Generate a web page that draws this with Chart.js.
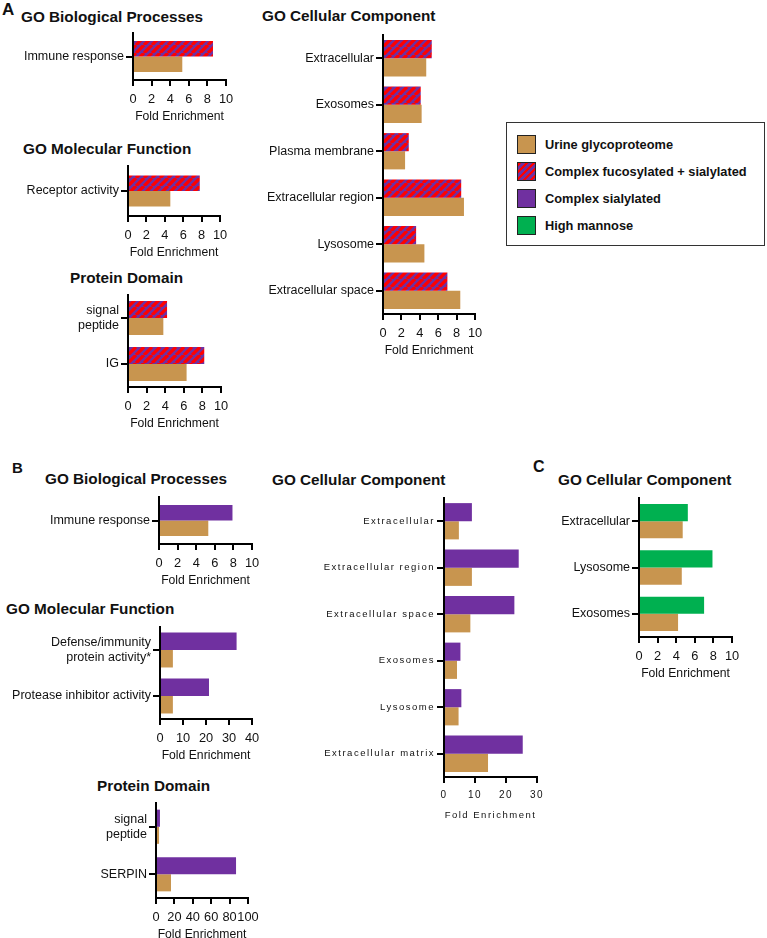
<!DOCTYPE html>
<html>
<head>
<meta charset="utf-8">
<script src="https://cdn.jsdelivr.net/npm/chart.js@4.4.1/dist/chart.umd.min.js"></script>
<style>
    body { margin: 0; background: #fff; font-family: "Liberation Sans", Arial, Helvetica, sans-serif; color: #111; }
    #page { position: relative; width: 767px; height: 938px; overflow: hidden; }
    canvas { position: absolute; }
    .lbl { position: absolute; font-weight: bold; line-height: 1; white-space: nowrap; }
    .title { font-size: 15.3px; }
    .legend { position: absolute; left: 506px; top: 122px; width: 257px; height: 122px; border: 1.5px solid #333; }
    .legend-item { position: absolute; left: 10px; height: 19px; display: flex; align-items: center; font-weight: bold; font-size: 12.8px; white-space: nowrap; }
    .swatch { width: 17px; height: 17px; border: 1.5px solid #222; margin-right: 9px; }
</style>
</head>
<body>
<div id="page">
    <div class="lbl" style="left:2px; top:1px; font-size:17px;">A</div>
    <div class="lbl" style="left:12px; top:460px; font-size:15px;">B</div>
    <div class="lbl" style="left:533px; top:459px; font-size:16px;">C</div>

    <div class="lbl title" style="left:21px; top:9px;">GO Biological Processes</div>
    <div class="lbl title" style="left:23px; top:141px;">GO Molecular Function</div>
    <div class="lbl title" style="left:70px; top:270px;">Protein Domain</div>
    <div class="lbl title" style="left:262px; top:8px;">GO Cellular Component</div>

    <div class="lbl title" style="left:45px; top:471px;">GO Biological Processes</div>
    <div class="lbl title" style="left:6px; top:601px;">GO Molecular Function</div>
    <div class="lbl title" style="left:97px; top:778px;">Protein Domain</div>
    <div class="lbl title" style="left:272px; top:472px;">GO Cellular Component</div>
    <div class="lbl title" style="left:558px; top:472px;">GO Cellular Component</div>

    <div class="legend">
        <div class="legend-item" style="top:12px;"><div class="swatch" style="background:#c8954f;"></div>Urine glycoproteome</div>
        <div class="legend-item" style="top:39px;"><div class="swatch" style="background:repeating-linear-gradient(135deg, #ff0000 0 2.5px, #7030a0 2.5px 5px);"></div>Complex fucosylated + sialylated</div>
        <div class="legend-item" style="top:66px;"><div class="swatch" style="background:#7030a0;"></div>Complex sialylated</div>
        <div class="legend-item" style="top:93px;"><div class="swatch" style="background:#00b050;"></div>High mannose</div>
    </div>
</div>

<script>
// ---- data ----
// Panel A: complex fucosylated + sialylated vs urine glycoproteome
const aBpLabels = ['Immune response'];
const aBpFucSial = [8.6];
const aBpUrine = [5.3];

const aMfLabels = ['Receptor activity'];
const aMfFucSial = [7.8];
const aMfUrine = [4.6];

const aPdLabels = [['signal', 'peptide'], 'IG'];
const aPdFucSial = [4.2, 8.2];
const aPdUrine = [3.8, 6.3];

const aCcLabels = ['Extracellular', 'Exosomes', 'Plasma membrane', 'Extracellular region', 'Lysosome', 'Extracellular space'];
const aCcFucSial = [5.3, 4.1, 2.8, 8.5, 3.6, 7.0];
const aCcUrine = [4.7, 4.2, 2.4, 8.8, 4.5, 8.4];

// Panel B: complex sialylated vs urine glycoproteome
const bBpLabels = ['Immune response'];
const bBpSial = [7.9];
const bBpUrine = [5.3];

const bMfLabels = [['Defense/immunity', 'protein activity*'], 'Protease inhibitor activity'];
const bMfSial = [33.3, 21.3];
const bMfUrine = [5.6, 5.6];

const bPdLabels = [['signal', 'peptide'], 'SERPIN'];
const bPdSial = [4.3, 87];
const bPdUrine = [3.3, 16.3];

const bCcLabels = ['Extracellular', 'Extracellular region', 'Extracellular space', 'Exosomes', 'Lysosome', 'Extracellular matrix'];
const bCcSial = [9.0, 24.1, 22.7, 5.3, 5.6, 25.4];
const bCcUrine = [4.8, 9.0, 8.5, 4.2, 4.7, 14.2];

// Panel C: high mannose vs urine glycoproteome
const cCcLabels = ['Extracellular', 'Lysosome', 'Exosomes'];
const cCcMannose = [5.25, 7.9, 7.0];
const cCcUrine = [4.7, 4.6, 4.2];

// x axis ranges (max, step)
const axisTen = [10, 2];
const axisForty = [40, 10];
const axisHundred = [100, 20];
const axisThirty = [30, 10];

document.addEventListener('DOMContentLoaded', () => {
    const TAN = '#c8954f';
    const PURPLE = '#7030a0';
    const RED = '#ff0000';
    const GREEN = '#00b050';
    const INK = '#111';

    Chart.defaults.font.family = '"Liberation Sans", Arial, Helvetica, sans-serif';
    Chart.defaults.color = INK;

    const page = document.getElementById('page');

    // red/purple diagonal hatch used for the fucosylated + sialylated bars
    function makeHatch() {
        const s = 8;
        const c = document.createElement('canvas');
        c.width = s; c.height = s;
        const g = c.getContext('2d');
        g.fillStyle = PURPLE;
        g.fillRect(0, 0, s, s);
        g.strokeStyle = RED;
        g.lineWidth = 3.2;
        g.beginPath();
        [-s, 0, s].forEach(o => { g.moveTo(o, s); g.lineTo(o + s, 0); });
        g.stroke();
        return g.createPattern(c, 'repeat');
    }
    const HATCH = makeHatch();

    const X_H = 44;   // height of the x scale box
    const PAD_T = 4;
    const PAD_R = 14;
    const Y_W = 160;

    function drawPanel(p) {
        const left = Math.max(0, p.axisX - Y_W);
        const yW = p.axisX - left;
        const canvas = document.createElement('canvas');
        canvas.width = yW + (p.right - p.axisX) + PAD_R;
        canvas.height = (p.bottom - p.top) + X_H + PAD_T;
        canvas.style.left = left + 'px';
        canvas.style.top = (p.top - PAD_T) + 'px';
        page.appendChild(canvas);

        const spacing = p.spacing || 0;
        const labelFont = { size: p.labelSize || 12.5 };
        const tickFont = { size: p.tickSize || 12.8 };
        const titleFont = { size: p.titleSize || 12.2 };

        const spacingPlugin = {
            id: 'spacing',
            beforeUpdate: chart => { chart.ctx.letterSpacing = spacing + 'px'; },
            beforeLayout: chart => { chart.ctx.letterSpacing = spacing + 'px'; },
            beforeDraw: chart => { chart.ctx.letterSpacing = spacing + 'px'; }
        };

        return new Chart(canvas.getContext('2d'), {
            type: 'bar',
            data: {
                labels: p.labels,
                datasets: [
                    { data: p.first, backgroundColor: p.color, categoryPercentage: p.cat, barPercentage: 1 },
                    { data: p.urine, backgroundColor: TAN, categoryPercentage: p.cat, barPercentage: 1 }
                ]
            },
            options: {
                indexAxis: 'y',
                responsive: false,
                animation: false,
                layout: { padding: { top: PAD_T, right: PAD_R, left: 0, bottom: 0 } },
                plugins: { legend: { display: false }, tooltip: { enabled: false } },
                scales: {
                    x: {
                        min: 0,
                        max: p.range[0],
                        ticks: { stepSize: p.range[1], autoSkip: false, maxRotation: 0, minRotation: 0, padding: 6, font: tickFont, color: INK },
                        grid: { drawOnChartArea: false, drawTicks: true, tickLength: 6, color: '#000', lineWidth: 2 },
                        border: { color: '#000', width: 2 },
                        title: { display: true, text: 'Fold Enrichment', font: titleFont, color: INK, padding: { top: 0, bottom: 0 } },
                        afterFit: s => { s.height = X_H; s.paddingLeft = 0; s.paddingRight = 0; }
                    },
                    y: {
                        ticks: { font: labelFont, color: INK, padding: 2, crossAlign: 'near' },
                        grid: { drawOnChartArea: false, drawTicks: true, offset: false, tickLength: 7, color: '#000', lineWidth: 2 },
                        border: { color: '#000', width: 2 },
                        afterFit: s => { s.width = yW; s.paddingTop = 0; s.paddingBottom = 0; }
                    }
                }
            },
            plugins: [spacingPlugin]
        });
    }

    // Panel A
    drawPanel({ axisX: 133, top: 33, bottom: 80, right: 226, range: axisTen, cat: 0.66,
        labels: aBpLabels, first: aBpFucSial, urine: aBpUrine, color: HATCH });
    drawPanel({ axisX: 128, top: 166, bottom: 216, right: 220, range: axisTen, cat: 0.62,
        labels: aMfLabels, first: aMfFucSial, urine: aMfUrine, color: HATCH });
    drawPanel({ axisX: 128, top: 295, bottom: 387, right: 221, range: axisTen, cat: 0.74,
        labels: aPdLabels, first: aPdFucSial, urine: aPdUrine, color: HATCH });
    drawPanel({ axisX: 383, top: 35, bottom: 314, right: 475, range: axisTen, cat: 0.78,
        labels: aCcLabels, first: aCcFucSial, urine: aCcUrine, color: HATCH });

    // Panel B
    drawPanel({ axisX: 159, top: 497, bottom: 544, right: 252, range: axisTen, cat: 0.66,
        labels: bBpLabels, first: bBpSial, urine: bBpUrine, color: PURPLE });
    drawPanel({ axisX: 160, top: 627, bottom: 719, right: 252, range: axisForty, cat: 0.76,
        labels: bMfLabels, first: bMfSial, urine: bMfUrine, color: PURPLE });
    drawPanel({ axisX: 156, top: 803, bottom: 898, right: 248, range: axisHundred, cat: 0.72,
        labels: bPdLabels, first: bPdSial, urine: bPdUrine, color: PURPLE });
    drawPanel({ axisX: 444, top: 498, bottom: 777, right: 537, range: axisThirty, cat: 0.78,
        labels: bCcLabels, first: bCcSial, urine: bCcUrine, color: PURPLE,
        spacing: 1.5, labelSize: 9.5, tickSize: 10, titleSize: 9.5 });

    // Panel C
    drawPanel({ axisX: 639, top: 498, bottom: 637, right: 732, range: axisTen, cat: 0.74,
        labels: cCcLabels, first: cCcMannose, urine: cCcUrine, color: GREEN });
});
</script>
</body>
</html>
